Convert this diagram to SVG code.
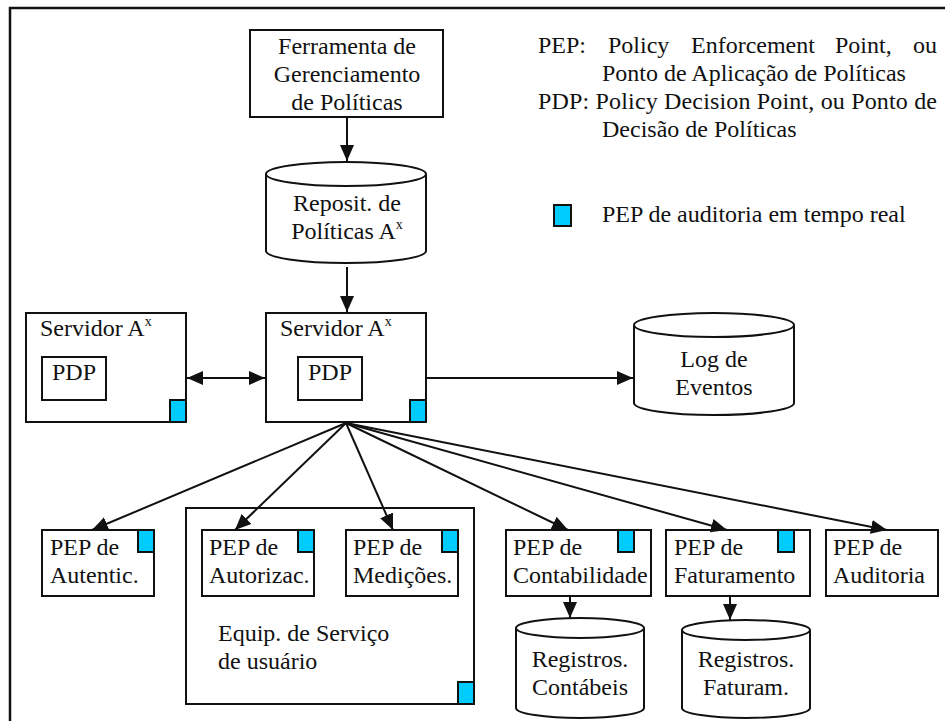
<svg xmlns="http://www.w3.org/2000/svg" width="945" height="721" viewBox="0 0 945 721">
  <style>
    .box { fill: #ffffff; stroke: #111111; stroke-width: 2; }
    .flag { fill: #00ccff; stroke: #111111; stroke-width: 2; }
    .cyl { fill: #ffffff; stroke: #111111; stroke-width: 2; }
    .mid { text-anchor: middle; }
    .conn { fill: none; stroke: #111111; stroke-width: 2; }
  </style>
  <defs>
    <marker id="arrow" markerUnits="userSpaceOnUse" markerWidth="16" markerHeight="16" viewBox="0 0 16 16" refX="16" refY="8" orient="auto">
      <path d="M0,1 L16,8 L0,15 Z" fill="#111111"/>
    </marker>
    <marker id="arrow-back" markerUnits="userSpaceOnUse" markerWidth="16" markerHeight="16" viewBox="0 0 16 16" refX="0" refY="8" orient="auto">
      <path d="M16,1 L0,8 L16,15 Z" fill="#111111"/>
    </marker>
  </defs>

  <rect width="945" height="721" fill="#ffffff"/>

  <!-- frame: top and left edges only -->
  <path d="M10,721 L10,8 L945,8" fill="none" stroke="#111111" stroke-width="2.5"/>

  <g font-family="Liberation Serif, Times New Roman, serif" font-size="24" fill="#111111">

  <!-- legend -->
  <g id="legend">
    <text y="53"><tspan x="538">PEP:</tspan><tspan x="608">Policy</tspan><tspan x="691">Enforcement</tspan><tspan x="835">Point,</tspan><tspan x="913">ou</tspan></text>
    <text x="602" y="81">Ponto de Aplicação de Políticas</text>
    <text x="538" y="109" textLength="399" lengthAdjust="spacing">PDP: Policy Decision Point, ou Ponto de</text>
    <text x="602" y="137">Decisão de Políticas</text>
    <rect class="flag" x="554" y="205" width="17" height="21"/>
    <text x="602" y="222">PEP de auditoria em tempo real</text>
  </g>

  <!-- policy management tool -->
  <g id="ferramenta">
    <rect class="box" x="250" y="30" width="193" height="87"/>
    <text class="mid" x="347" y="54">Ferramenta de</text>
    <text class="mid" x="347" y="82">Gerenciamento</text>
    <text class="mid" x="347" y="110">de Políticas</text>
  </g>

  <!-- policy repository -->
  <g id="repositorio">
    <path class="cyl" d="M266,174 L266,251 A80,12 0 0 0 426,251 L426,174 A80,12 0 0 0 266,174 Z"/>
    <path class="cyl" d="M266,174 A80,12 0 0 0 426,174" fill="none"/>
    <text class="mid" x="347" y="211">Reposit. de</text>
    <text class="mid" x="347" y="239">Políticas A<tspan font-size="14" dy="-10">x</tspan></text>
  </g>

  <!-- left server -->
  <g id="servidor-esq">
    <rect class="box" x="26" y="313" width="160" height="109"/>
    <text x="40" y="336">Servidor A<tspan font-size="14" dy="-10">x</tspan></text>
    <rect class="box" x="42" y="357" width="64" height="43"/>
    <text class="mid" x="74" y="380">PDP</text>
    <rect class="flag" x="170" y="400" width="16" height="22"/>
  </g>

  <!-- central server -->
  <g id="servidor-central">
    <rect class="box" x="266" y="313" width="160" height="109"/>
    <text x="280" y="336">Servidor A<tspan font-size="14" dy="-10">x</tspan></text>
    <rect class="box" x="298" y="357" width="64" height="43"/>
    <text class="mid" x="330" y="380">PDP</text>
    <rect class="flag" x="410" y="400" width="16" height="22"/>
  </g>

  <!-- event log -->
  <g id="log">
    <path class="cyl" d="M634,325 L634,403 A80,12 0 0 0 794,403 L794,325 A80,12 0 0 0 634,325 Z"/>
    <path class="cyl" d="M634,325 A80,12 0 0 0 794,325" fill="none"/>
    <text class="mid" x="714" y="367">Log de</text>
    <text class="mid" x="714" y="395">Eventos</text>
  </g>

  <!-- user service equipment -->
  <g id="equip">
    <rect class="box" x="186" y="508" width="288" height="196"/>
    <text x="218" y="641">Equip. de Serviço</text>
    <text x="218" y="669">de usuário</text>
    <rect class="flag" x="458" y="682" width="16" height="22"/>
  </g>

  <g id="pep-autentic">
    <rect class="box" x="42" y="530" width="112" height="66"/>
    <rect class="flag" x="138" y="530" width="16" height="22"/>
    <text x="50" y="555">PEP de</text>
    <text x="50" y="583">Autentic.</text>
  </g>

  <g id="pep-autorizac">
    <rect class="box" x="202" y="530" width="112" height="66"/>
    <rect class="flag" x="298" y="530" width="16" height="22"/>
    <text x="209" y="555">PEP de</text>
    <text x="209" y="583">Autorizac.</text>
  </g>

  <g id="pep-medicoes">
    <rect class="box" x="346" y="530" width="112" height="66"/>
    <rect class="flag" x="442" y="530" width="16" height="22"/>
    <text x="353" y="555">PEP de</text>
    <text x="353" y="583">Medições.</text>
  </g>

  <g id="pep-contabilidade">
    <rect class="box" x="506" y="530" width="145" height="66"/>
    <rect class="flag" x="618" y="530" width="16" height="22"/>
    <text x="513" y="555">PEP de</text>
    <text x="513" y="583">Contabilidade</text>
  </g>

  <g id="pep-faturamento">
    <rect class="box" x="666" y="530" width="144" height="66"/>
    <rect class="flag" x="778" y="530" width="16" height="22"/>
    <text x="674" y="555">PEP de</text>
    <text x="674" y="583">Faturamento</text>
  </g>

  <g id="pep-auditoria">
    <rect class="box" x="826" y="530" width="112" height="66"/>
    <text x="833" y="555">PEP de</text>
    <text x="833" y="583">Auditoria</text>
  </g>

  <g id="reg-contabeis">
    <path class="cyl" d="M516,628 L516,708 A64,10 0 0 0 644,708 L644,628 A64,10 0 0 0 516,628 Z"/>
    <path class="cyl" d="M516,628 A64,10 0 0 0 644,628" fill="none"/>
    <text class="mid" x="580" y="667">Registros.</text>
    <text class="mid" x="580" y="695">Contábeis</text>
  </g>

  <g id="reg-faturam">
    <path class="cyl" d="M682,630 L682,708 A64,10 0 0 0 810,708 L810,630 A64,10 0 0 0 682,630 Z"/>
    <path class="cyl" d="M682,630 A64,10 0 0 0 810,630" fill="none"/>
    <text class="mid" x="746" y="667">Registros.</text>
    <text class="mid" x="746" y="695">Faturam.</text>
  </g>

  </g>

  <!-- connectors -->
  <g id="connectors" class="conn">
    <line x1="347" y1="117" x2="347" y2="161" marker-end="url(#arrow)"/>
    <line x1="347" y1="267" x2="347" y2="312" marker-end="url(#arrow)"/>
    <line x1="187" y1="378" x2="265" y2="378" marker-start="url(#arrow-back)" marker-end="url(#arrow)"/>
    <line x1="426" y1="378" x2="633" y2="378" marker-end="url(#arrow)"/>
    <line x1="346" y1="423" x2="92" y2="530" marker-end="url(#arrow)"/>
    <line x1="346" y1="423" x2="235" y2="530" marker-end="url(#arrow)"/>
    <line x1="346" y1="423" x2="393" y2="530" marker-end="url(#arrow)"/>
    <line x1="346" y1="423" x2="568" y2="530" marker-end="url(#arrow)"/>
    <line x1="346" y1="423" x2="727" y2="530" marker-end="url(#arrow)"/>
    <line x1="346" y1="423" x2="887" y2="530" marker-end="url(#arrow)"/>
    <line x1="570" y1="596" x2="570" y2="618" marker-end="url(#arrow)"/>
    <line x1="730" y1="596" x2="730" y2="620" marker-end="url(#arrow)"/>
  </g>
</svg>
